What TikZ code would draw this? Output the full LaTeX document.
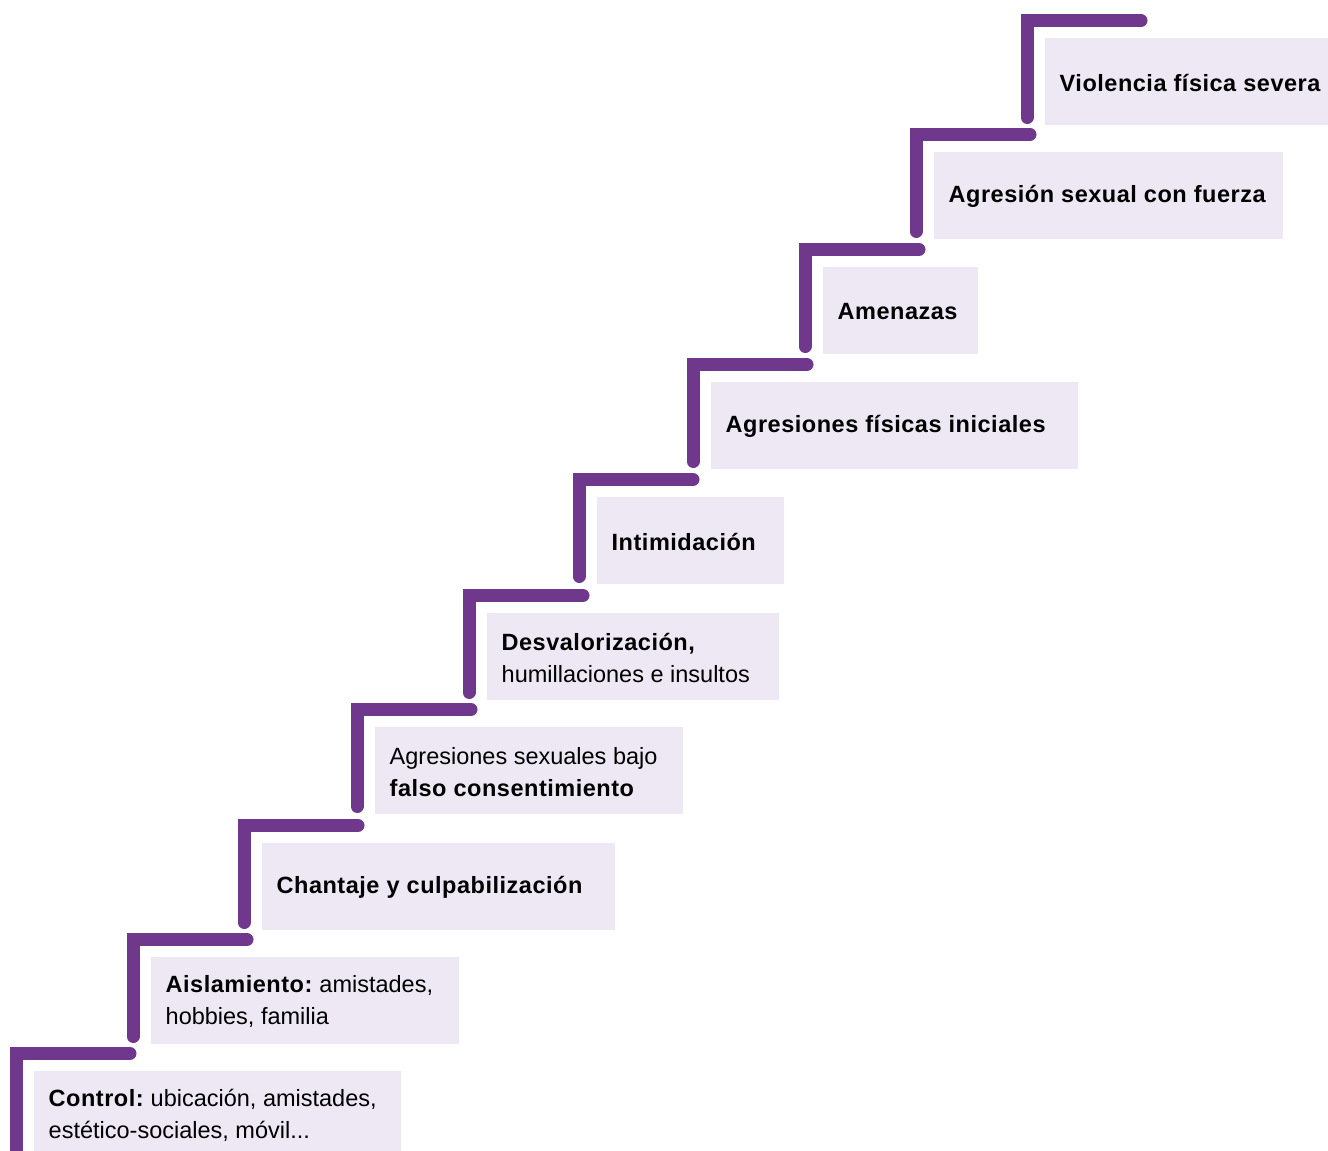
\documentclass[tikz,border=0pt]{standalone}
\usepackage{fontspec}
\setmainfont{Liberation Sans}[BoldFeatures={LetterSpace=2.2}]
\usetikzlibrary{calc}
\definecolor{morado}{RGB}{112,56,140}
\definecolor{lila}{RGB}{238,232,245}
\begin{document}
\begin{tikzpicture}[x=1pt,y=-1pt,
	escalon/.style={draw=morado,line width=13pt,line cap=round},
	caja/.style={fill=lila,anchor=north west,minimum height=87pt,inner sep=0pt},
	texto/.style={anchor=west,align=left,inner sep=0pt,font=\fontsize{23.5}{32}\selectfont}]
	\useasboundingbox (0,0) rectangle (1328,1151);
	% esquina del escalon / ancho de la caja / texto
	\foreach \i/\x/\y/\w/\t in {
		0/16/1053.5/367/{\textbf{Control:}~ubicación, amistades,\\estético-sociales, móvil...},
		1/133/939.5/308/{\textbf{Aislamiento:}~amistades,\\hobbies, familia},
		2/244/825.5/353/{\textbf{Chantaje y culpabilización}},
		3/357/709.5/308/{Agresiones sexuales bajo\\\textbf{falso consentimiento}},
		4/469/595.5/292/{\textbf{Desvalorización,}\\humillaciones e insultos},
		5/579/479.5/187/{\textbf{Intimidación}},
		6/693/364.5/367/{\textbf{Agresiones físicas iniciales}},
		7/805/249.5/155/{\textbf{Amenazas}},
		8/916/134.5/349/{\textbf{Agresión sexual con fuerza}},
		9/1027/20.5/300/{\textbf{Violencia física severa}}}{
		\coordinate (esq\i) at (\x,\y);
		\node[caja,minimum width=\w pt] (caja\i) at ($(esq\i)+(17.5,17.5)$) {};
		\node[texto] (txt\i) at ($(caja\i.west)+(15,1)$) {\t};
		\draw[escalon] ($(esq\i)+(0,97)$) -- (esq\i) -- ++(114,0);
	}
\end{tikzpicture}
\end{document}
